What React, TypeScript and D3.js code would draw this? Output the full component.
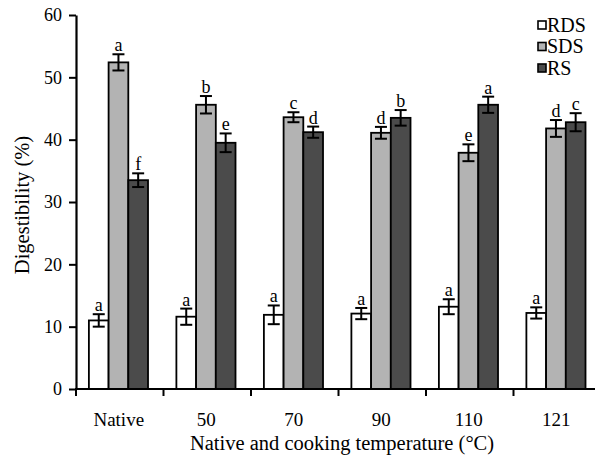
import React, { useEffect, useRef } from "react";
import * as d3 from "d3";

const categories = ["Native", "50", "70", "90", "110", "121"];
const seriesNames = ["RDS", "SDS", "RS"];
const seriesColors = ["#ffffff", "#b3b3b3", "#4b4b4b"];

const rdsValues = [11.0, 11.6, 11.9, 12.1, 13.2, 12.2];
const sdsValues = [52.4, 45.6, 43.6, 41.1, 37.9, 41.8];
const rsValues = [33.5, 39.5, 41.2, 43.5, 45.6, 42.8];

const rdsErrors = [1.0, 1.3, 1.5, 0.9, 1.2, 0.9];
const sdsErrors = [1.3, 1.4, 0.8, 0.95, 1.35, 1.35];
const rsErrors = [1.1, 1.5, 0.9, 1.25, 1.3, 1.45];

const rdsLetters = ["a", "a", "a", "a", "a", "a"];
const sdsLetters = ["a", "b", "c", "d", "e", "d"];
const rsLetters = ["f", "e", "d", "b", "a", "c"];

const yTicks = [0, 10, 20, 30, 40, 50, 60];

const App = () => {
  const ref = useRef(null);

  useEffect(() => {
    const width = 595;
    const height = 459;
    const font = "Liberation Serif, DejaVu Serif, Times New Roman, serif";

    d3.select(ref.current).selectAll("*").remove();

    const svg = d3
      .select(ref.current)
      .append("svg")
      .attr("width", width)
      .attr("height", height)
      .attr("font-family", font)
      .style("position", "absolute")
      .style("left", 0)
      .style("top", 0)
      .style("background", "#fff");

    const values = [rdsValues, sdsValues, rsValues];
    const errors = [rdsErrors, sdsErrors, rsErrors];
    const letters = [rdsLetters, sdsLetters, rsLetters];

    const data = categories.map((c, i) => ({
      category: c,
      bars: seriesNames.map((s, j) => ({
        series: s,
        color: seriesColors[j],
        value: values[j][i],
        err: errors[j][i],
        letter: letters[j][i],
      })),
    }));

    // Scales
    const xScale = d3.scaleBand().domain(categories).range([76, 601]).padding(0);
    const x1 = d3
      .scaleBand()
      .domain(seriesNames)
      .range([0, xScale.bandwidth()])
      .paddingInner(0)
      .paddingOuter(0.72);
    const yScale = d3.scaleLinear().domain([0, 60]).range([389, 15]);

    // Bars
    const groups = svg
      .selectAll("g.group")
      .data(data)
      .join("g")
      .attr("class", "group")
      .attr("transform", (d) => `translate(${xScale(d.category) - 1.3},0)`);

    groups
      .selectAll("rect")
      .data((d) => d.bars)
      .join("rect")
      .attr("x", (d) => x1(d.series))
      .attr("y", (d) => yScale(d.value))
      .attr("width", x1.bandwidth())
      .attr("height", (d) => yScale(0) - yScale(d.value))
      .attr("fill", (d) => d.color)
      .attr("stroke", "#000")
      .attr("stroke-width", 1.8);

    // Error bars
    const capHalf = 6;
    const err = groups
      .selectAll("g.err")
      .data((d) => d.bars)
      .join("g")
      .attr("class", "err")
      .attr("stroke", "#000")
      .attr("stroke-width", 2);

    const cx = (d) => x1(d.series) + x1.bandwidth() / 2;
    err
      .append("line")
      .attr("x1", cx)
      .attr("x2", cx)
      .attr("y1", (d) => yScale(d.value + d.err))
      .attr("y2", (d) => yScale(d.value - d.err));
    err
      .append("line")
      .attr("x1", (d) => cx(d) - capHalf)
      .attr("x2", (d) => cx(d) + capHalf)
      .attr("y1", (d) => yScale(d.value + d.err))
      .attr("y2", (d) => yScale(d.value + d.err));
    err
      .append("line")
      .attr("x1", (d) => cx(d) - capHalf)
      .attr("x2", (d) => cx(d) + capHalf)
      .attr("y1", (d) => yScale(d.value - d.err))
      .attr("y2", (d) => yScale(d.value - d.err));

    // Significance letters
    groups
      .selectAll("text.letter")
      .data((d) => d.bars)
      .join("text")
      .attr("class", "letter")
      .attr("x", cx)
      .attr("y", (d) => yScale(d.value + d.err) - 3)
      .attr("text-anchor", "middle")
      .attr("font-size", 18)
      .text((d) => d.letter);

    // Y axis
    const yAxis = svg
      .append("g")
      .attr("transform", "translate(76,0)")
      .call(d3.axisLeft(yScale).tickValues(yTicks).tickSize(7).tickSizeOuter(0));
    yAxis.attr("font-family", font).attr("font-size", 18);
    yAxis.select(".domain").attr("stroke-width", 2.2);
    yAxis.selectAll(".tick line").attr("stroke-width", 2);
    yAxis.selectAll(".tick text").attr("x", -14).attr("fill", "#000");

    // X axis
    const xAxis = svg.append("g").attr("transform", "translate(0,389)");
    xAxis
      .append("line")
      .attr("x1", 75)
      .attr("x2", 601)
      .attr("stroke", "#000")
      .attr("stroke-width", 2.2);
    xAxis
      .selectAll("line.tick")
      .data(categories)
      .join("line")
      .attr("class", "tick")
      .attr("x1", (d) => xScale(d))
      .attr("x2", (d) => xScale(d))
      .attr("y1", 0)
      .attr("y2", 7)
      .attr("stroke", "#000")
      .attr("stroke-width", 2);
    xAxis
      .selectAll("text")
      .data(categories)
      .join("text")
      .attr("x", (d) => xScale(d) + xScale.bandwidth() / 2 - 1)
      .attr("y", 37)
      .attr("text-anchor", "middle")
      .attr("font-size", 19)
      .text((d) => d);

    // Axis titles
    svg
      .append("text")
      .attr("x", 342)
      .attr("y", 450)
      .attr("text-anchor", "middle")
      .attr("font-size", 20.5)
      .text("Native and cooking temperature (°C)");

    svg
      .append("text")
      .attr("transform", "translate(29,205) rotate(-90)")
      .attr("text-anchor", "middle")
      .attr("font-size", 20.5)
      .text("Digestibility (%)");

    // Legend
    const legend = svg
      .selectAll("g.legend")
      .data(seriesNames)
      .join("g")
      .attr("class", "legend")
      .attr("transform", (d, i) => `translate(538,${25 + i * 21.5})`);
    legend
      .append("rect")
      .attr("x", 0)
      .attr("y", -4)
      .attr("width", 8)
      .attr("height", 8)
      .attr("fill", (d, i) => seriesColors[i])
      .attr("stroke", "#000")
      .attr("stroke-width", 1.6);
    legend
      .append("text")
      .attr("x", 9)
      .attr("y", 6.5)
      .attr("font-size", 20)
      .text((d) => d);
  }, []);

  return <div ref={ref}></div>;
};

export default App;
